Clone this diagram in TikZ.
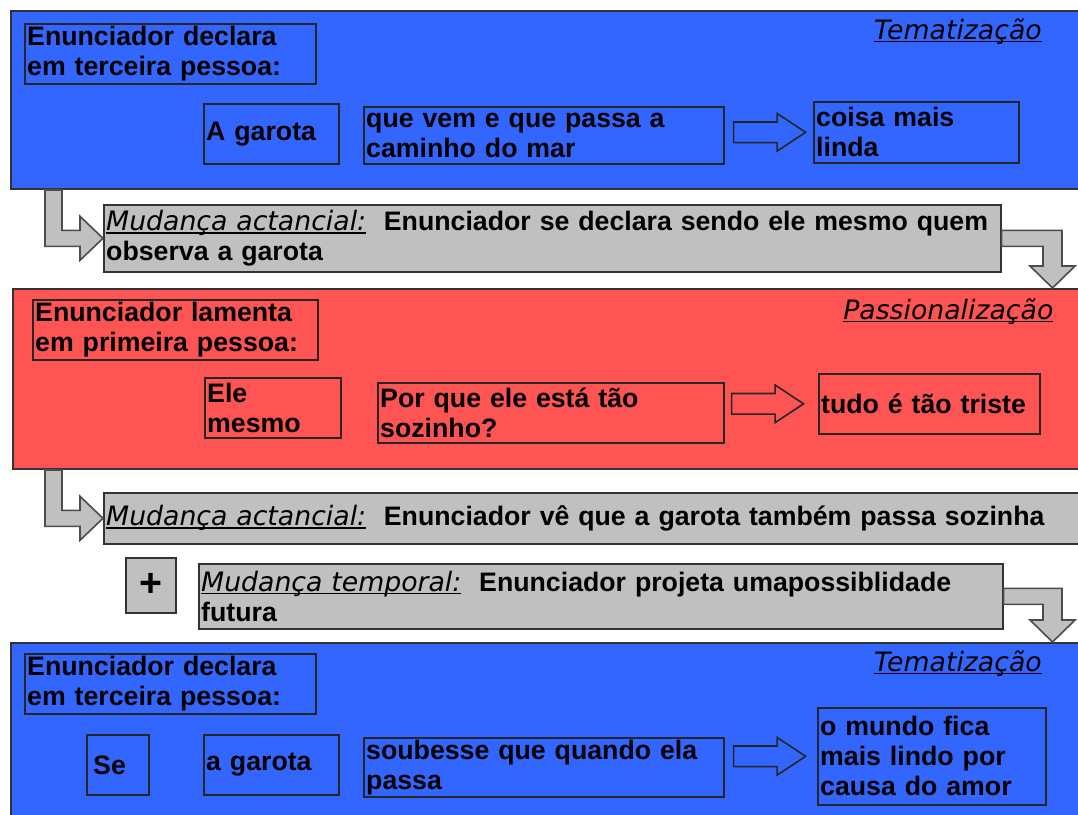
\documentclass[tikz,border=0pt]{standalone}
\usepackage{fontspec}
\setmainfont{Liberation Sans}
\newfontfamily\labelfont{DejaVu Sans Oblique}
\usetikzlibrary{calc,positioning,shapes.arrows}

\definecolor{tblue}{RGB}{51,102,255}
\definecolor{pred}{RGB}{255,84,84}
\definecolor{bargray}{RGB}{192,192,192}

\newsavebox{\stagebox}
\newcommand{\stagename}[1]{{\labelfont\mdseries\sbox{\stagebox}{#1}\rlap{\rule[-2.2pt]{\wd\stagebox}{0.9pt}}\usebox{\stagebox}}}
\def\leftbend(#1)(#2){\draw[bendarrow] (#1) -- ++(17, 0) |- ($(#2)+(-23, -8)$) -- ++(0, -14) -- (#2) -- ++(-23, 22) -- ++(0, -14) -| (#1) -- cycle;}
\def\rightbend(#1)(#2){\draw[bendarrow] ($(#1)+(0, -8)$) -| ($(#2)+(9.5, -22)$) -- ++(13, 0) -- (#2) -- ++(-22.5, -22) -- ++(13, 0) |- ($(#1)+(0, 8)$) -- cycle;}

\tikzset{
	panel/.style={draw=black!80, line width=0.5mm, anchor=north west, inner sep=0mm},
	box/.style={draw=black!85, line width=0.4mm, anchor=north west, align=left, inner xsep=0.6mm, inner ysep=0mm, font=\fontsize{19}{21.3}\selectfont\bfseries},
	bar/.style={box, fill=bargray, draw=black!80},
	stage/.style={inner sep=0mm, font=\fontsize{19}{21.3}\selectfont},
	flow/.style={single arrow, draw=black!85, line width=0.4mm, minimum height=18mm, inner xsep=0mm, inner ysep=2.375mm, single arrow head extend=2.125mm, single arrow tip angle=67},
	bendarrow/.style={fill=bargray, draw=black!70, line width=0.4mm, line join=miter}
}

\begin{document}
\begin{tikzpicture}[x=0.25mm, y=-0.25mm]
	%%%%% START %%%%%
	\useasboundingbox (0, 0) rectangle (1078, 814);
	\fill[white] (0, 0) rectangle (1078, 814);
	
	% first stage
	\node[panel, fill=tblue, minimum width=270mm, minimum height=44.5mm] (pan1) at (10, 10) {};
	\node[box, text width=71.55mm, minimum height=15mm] (decl1) at (24, 23) {Enunciador declara\\em terceira pessoa:};
	\node[box, text width=32.55mm, minimum height=15mm] (subj1) at (203, 103) {A garota};
	\node[box, text width=88.8mm, minimum height=14.25mm] (pred1) at (363, 106) {que vem e que passa a\\caminho do mar};
	\node[box, text width=50.05mm, minimum height=15.25mm] (res1) at (813, 101) {coisa mais\\linda};
	\node[flow, left=1.5mm of res1] (flow1) {};
	\node[stage, anchor=base east] (tema1) at (1042, 39) {\stagename{Tematização}};
	
	\node[bar, text width=223.05mm, minimum height=16.75mm] (bar1) at (103, 204) {\stagename{Mudança actancial:}\ \ Enunciador se declara sendo ele mesmo quem\\observa a garota};
	
	% second stage
	\node[panel, fill=pred, minimum width=269.5mm, minimum height=45mm] (pan2) at (12, 288) {};
	\node[box, text width=70.05mm, minimum height=15mm] (decl2) at (32, 299) {Enunciador lamenta\\em primeira pessoa:};
	\node[box, text width=32.8mm, minimum height=15mm] (subj2) at (204, 377) {Ele\\mesmo};
	\node[box, text width=85.3mm, minimum height=15mm] (pred2) at (377, 382) {Por que ele está tão\\sozinho?};
	\node[box, text width=54.05mm, minimum height=15mm] (res2) at (818, 373) {tudo é tão triste};
	\node[flow, left=3.25mm of res2] (flow2) {};
	\node[stage, anchor=base west] (tema2) at (843, 319) {\stagename{Passionalização}};
	
	\node[bar, text width=244.3mm, minimum height=12.75mm] (bar2) at (103, 492) {\stagename{Mudança actancial:}\ \ Enunciador vê que a garota também passa sozinha};
	\node[bar, align=center, minimum width=12.5mm, minimum height=13.75mm, font=\fontsize{28}{28}\selectfont\bfseries] (plus) at (125, 557) {+};
	\node[bar, text width=199.8mm, minimum height=16.25mm] (bar3) at (198, 563) {\stagename{Mudança temporal:}\ \ Enunciador projeta umapossiblidade\\futura};
	
	% third stage
	\node[panel, fill=tblue, minimum width=270mm, minimum height=50mm] (pan3) at (10, 642) {};
	\node[box, text width=71.55mm, minimum height=15mm] (decl3) at (24, 653) {Enunciador declara\\em terceira pessoa:};
	\node[box, text width=14.3mm, minimum height=15mm] (cond3) at (86, 734) {\hspace{1mm}Se};
	\node[box, text width=32.55mm, minimum height=15mm] (subj3) at (203, 734) {a garota};
	\node[box, text width=88.8mm, minimum height=14.75mm] (pred3) at (363, 737) {soubesse que quando ela\\passa};
	\node[box, text width=55.8mm, minimum height=24.25mm] (res3) at (817, 707) {o mundo fica\\mais lindo por\\causa do amor};
	\node[flow, left=2.5mm of res3] (flow3) {};
	\node[stage, anchor=base east] (tema3) at (1042, 671) {\stagename{Tematização}};
	
	% bent arrows between the stages
	\coordinate (drop1) at ($(pan1.south west)+(35, 0)$);
	\coordinate (drop2) at ($(pan2.south west)+(33, 0)$);
	\coordinate (land1) at (1052.5, 288);
	\coordinate (land2) at (1052.5, 642);
	
	\leftbend(drop1)(bar1.west)
	\rightbend(bar1.east)(land1)
	\leftbend(drop2)(bar2.west)
	\rightbend(bar3.east)(land2)
	
	%%%%% END %%%%%
\end{tikzpicture}
\end{document}
